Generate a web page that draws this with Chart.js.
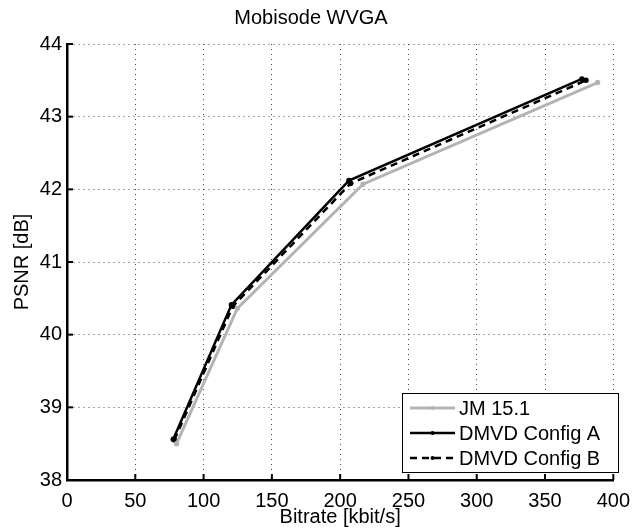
<!DOCTYPE html>
<html>
<head>
<meta charset="utf-8">
<script src="https://cdn.jsdelivr.net/npm/chart.js@4/dist/chart.umd.min.js"></script>
<style>
  html, body { margin: 0; padding: 0; background: #fff; }
  #wrap { width: 639px; height: 529px; }
</style>
</head>
<body>
<div id="wrap"><canvas id="psnrChart" width="639" height="529"></canvas></div>
<script>
// --- dados ---
const chartTitle = 'Mobisode WVGA';
const xTitle = 'Bitrate [kbit/s]';
const yTitle = 'PSNR [dB]';

const seriesNames = ['JM 15.1', 'DMVD Config A', 'DMVD Config B'];

const bitrateJM = [80.2, 124.7, 216.7, 388.5];
const psnrJM    = [38.50, 40.36, 42.07, 43.47];

const bitrateA = [77.8, 120.4, 206.4, 377.0];
const psnrA    = [38.56, 40.41, 42.12, 43.52];

const bitrateB = [78.6, 121.4, 207.6, 380.0];
const psnrB    = [38.55, 40.39, 42.08, 43.50];

const xTicks = [0, 50, 100, 150, 200, 250, 300, 350, 400];
const yTicks = [38, 39, 40, 41, 42, 43, 44];

const FONT = 'Liberation Sans, Arial, Helvetica, sans-serif';

const toPoints = (xs, ys) => xs.map((x, i) => ({ x: x, y: ys[i] }));

// ticks para dentro (estilo MATLAB)
const innerTicks = {
    id: 'innerTicks',
    afterDatasetsDraw(chart) {
        const { ctx, chartArea: a, scales: { x, y } } = chart;
        ctx.save();
        ctx.strokeStyle = '#000';
        ctx.lineWidth = 2;
        xTicks.forEach(v => {
            const px = x.getPixelForValue(v);
            ctx.beginPath();
            ctx.moveTo(px, a.bottom);
            ctx.lineTo(px, a.bottom - 6);
            ctx.stroke();
        });
        yTicks.forEach(v => {
            const py = y.getPixelForValue(v);
            ctx.beginPath();
            ctx.moveTo(a.left, py);
            ctx.lineTo(a.left + 6, py);
            ctx.stroke();
        });
        ctx.restore();
    }
};

// legenda dentro da área do gráfico, canto inferior direito
const boxLegend = {
    id: 'boxLegend',
    afterDraw(chart) {
        const { ctx } = chart;
        const left = 402, top = 393, w = 216, h = 79;
        ctx.save();
        ctx.fillStyle = '#fff';
        ctx.fillRect(left, top, w, h);
        ctx.strokeStyle = '#000';
        ctx.lineWidth = 1;
        ctx.strokeRect(left + 0.5, top + 0.5, w, h);
        ctx.font = '20px ' + FONT;
        ctx.textBaseline = 'middle';
        chart.data.datasets.forEach((ds, i) => {
            const cy = top + 15 + i * 25;
            ctx.strokeStyle = ds.borderColor;
            ctx.lineWidth = ds.borderWidth;
            ctx.setLineDash(ds.borderDash || []);
            ctx.beginPath();
            ctx.moveTo(410, cy);
            ctx.lineTo(455, cy);
            ctx.stroke();
            ctx.setLineDash([]);
            ctx.fillStyle = ds.borderColor;
            ctx.beginPath();
            ctx.arc(432.5, cy, 2, 0, Math.PI * 2);
            ctx.fill();
            ctx.fillStyle = '#000';
            ctx.fillText(ds.label, 459, cy + 1);
        });
        ctx.restore();
    }
};

const ctx = document.getElementById('psnrChart').getContext('2d');
new Chart(ctx, {
    type: 'line',
    data: {
        datasets: [
            {
                label: seriesNames[0],
                data: toPoints(bitrateJM, psnrJM),
                borderColor: '#b3b3b3',
                backgroundColor: '#b3b3b3',
                borderWidth: 3,
                pointRadius: 1.2,
                tension: 0
            },
            {
                label: seriesNames[1],
                data: toPoints(bitrateA, psnrA),
                borderColor: '#000',
                backgroundColor: '#000',
                borderWidth: 2.5,
                pointRadius: 1.5,
                tension: 0
            },
            {
                label: seriesNames[2],
                data: toPoints(bitrateB, psnrB),
                borderColor: '#000',
                backgroundColor: '#000',
                borderWidth: 2.5,
                borderDash: [7, 5],
                pointRadius: 1.5,
                tension: 0
            }
        ]
    },
    options: {
        responsive: false,
        animation: false,
        layout: { padding: { left: 0, right: 17, top: 0, bottom: 0 } },
        plugins: {
            legend: { display: false },
            tooltip: { enabled: false },
            title: {
                display: true,
                text: chartTitle,
                color: '#000',
                font: { family: FONT, size: 20, weight: 'normal' },
                padding: { top: 6, bottom: 14 }
            }
        },
        scales: {
            x: {
                type: 'linear',
                min: 0,
                max: 400,
                afterBuildTicks: (axis) => { axis.ticks = xTicks.map(v => ({ value: v })); },
                afterFit: (axis) => { axis.height = 49; },
                ticks: {
                    color: '#000',
                    padding: 9,
                    maxRotation: 0,
                    font: { family: FONT, size: 20 }
                },
                grid: { color: 'rgba(0,0,0,0.7)', lineWidth: 1, drawTicks: false },
                border: { color: '#000', width: 2.5, dash: [1, 4] },
                title: {
                    display: true,
                    text: xTitle,
                    color: '#000',
                    font: { family: FONT, size: 20 },
                    padding: { top: 0, bottom: 0 }
                }
            },
            y: {
                type: 'linear',
                min: 38,
                max: 44,
                afterBuildTicks: (axis) => { axis.ticks = yTicks.map(v => ({ value: v })); },
                afterFit: (axis) => { axis.width = 67; },
                ticks: {
                    color: '#000',
                    padding: 5,
                    font: { family: FONT, size: 20 }
                },
                grid: { color: 'rgba(0,0,0,0.7)', lineWidth: 1, drawTicks: false },
                border: { color: '#000', width: 2.5, dash: [1, 4] },
                title: {
                    display: true,
                    text: yTitle,
                    color: '#000',
                    font: { family: FONT, size: 20 },
                    padding: { top: 10, bottom: 0 }
                }
            }
        }
    },
    plugins: [innerTicks, boxLegend]
});
</script>
</body>
</html>
